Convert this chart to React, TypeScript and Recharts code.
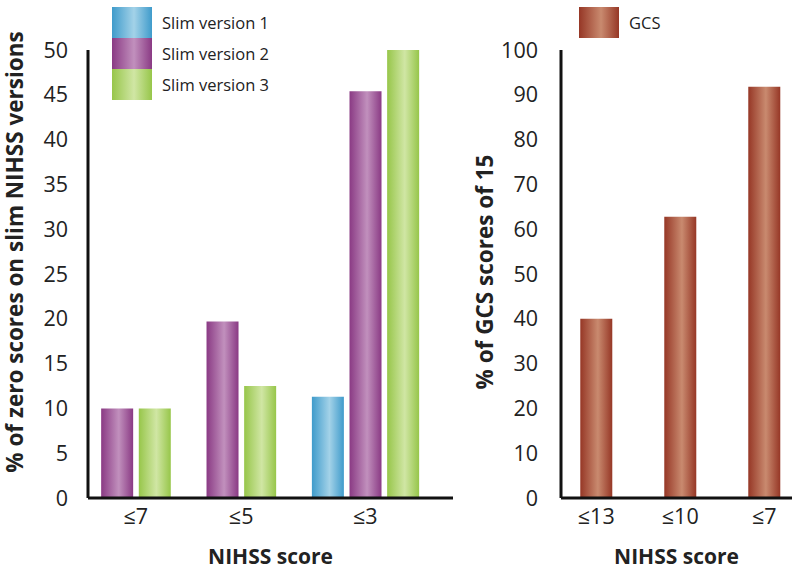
import { BarChart, Bar, XAxis, YAxis, Cell, Legend } from 'recharts';

// left panel: % of zero scores on slim NIHSS versions
const leftCategories = ['≤7', '≤5', '≤3'];
const slimV1: (number | null)[] = [null, null, 11.3];
const slimV2: (number | null)[] = [10, 19.7, 45.4];
const slimV3: (number | null)[] = [10, 12.5, 50];
const leftTicks = [0, 5, 10, 15, 20, 25, 30, 35, 40, 45, 50];

// right panel: % of GCS scores of 15
const rightCategories = ['≤13', '≤10', '≤7'];
const gcs = [40, 62.8, 91.8];
const rightTicks = [0, 10, 20, 30, 40, 50, 60, 70, 80, 90, 100];

const FONT = '"Open Sans", "Noto Sans", sans-serif';

const series = [
  { key: 'v1', name: 'Slim version 1', values: slimV1, edge: '#3f9bcb', light: '#a3d2e8' },
  { key: 'v2', name: 'Slim version 2', values: slimV2, edge: '#8a3a84', light: '#c190bd' },
  { key: 'v3', name: 'Slim version 3', values: slimV3, edge: '#97c64a', light: '#d0e6a4' },
];
const gcsStyle = { key: 'gcs', name: 'GCS', edge: '#963726', light: '#c98a6f' };

// lay bars out side by side per category, skipping missing values,
// with a wider gap between the groups
const GROUP_GAP = 0.8;
const leftRows: { pos: number; value: number; key: string }[] = [];
const leftTickPos: number[] = [];
let cursor = 0;
leftCategories.forEach((_, i) => {
  const start = cursor;
  series.forEach((s) => {
    const v = s.values[i];
    if (v != null) {
      leftRows.push({ pos: cursor, value: v, key: s.key });
      cursor += 1;
    }
  });
  leftTickPos.push((start + cursor - 1) / 2);
  cursor += GROUP_GAP;
});

const rightRows = gcs.map((v, i) => ({ pos: i, value: v, key: 'gcs' }));
const rightTickPos = rightCategories.map((_, i) => i);

const gradientDefs = (
  <defs>
    {[...series, gcsStyle].map((s) => (
      <linearGradient key={s.key} id={`grad-${s.key}`} x1="0" y1="0" x2="1" y2="0">
        <stop offset="0%" stopColor={s.edge} />
        <stop offset="55%" stopColor={s.light} />
        <stop offset="100%" stopColor={s.edge} />
      </linearGradient>
    ))}
  </defs>
);

const cssGradient = (s: { edge: string; light: string }) =>
  `linear-gradient(to right, ${s.edge} 0%, ${s.light} 55%, ${s.edge} 100%)`;

const SwatchLegend = ({ items }: { items: { key: string; name: string; edge: string; light: string }[] }) => (
  <div style={{ fontFamily: FONT, fontSize: 16.5, color: '#222' }}>
    {items.map((s) => (
      <div key={s.key} style={{ display: 'flex', alignItems: 'center', height: 31 }}>
        <div style={{ width: 40, height: 31, background: cssGradient(s) }} />
        <span style={{ marginLeft: 10 }}>{s.name}</span>
      </div>
    ))}
  </div>
);

const rotatedTitle = (text: string, x: number, y: number) => () => (
  <text
    transform={`translate(${x},${y}) rotate(-90)`}
    textAnchor="middle"
    dominantBaseline="central"
    fontFamily={FONT}
    fontSize={22.5}
    fontWeight="bold"
    fill="#222"
  >
    {text}
  </text>
);

const axisLine = { stroke: '#111', strokeWidth: 3 };
const tickStyle = { fontSize: 21.5, fill: '#222', fontFamily: FONT };
const titleStyle = { fontSize: 21, fontWeight: 'bold', fill: '#222', fontFamily: FONT };

export default function App() {
  return (
    <div style={{ position: 'absolute', left: 0, top: 0, width: 800, height: 572, background: '#fff' }}>
      <div style={{ position: 'absolute', left: 0, top: 0 }}>
        <BarChart width={460} height={572} data={leftRows} margin={{ top: 50, right: 7, bottom: 0, left: 0 }}>
          {gradientDefs}
          <XAxis
            type="number"
            dataKey="pos"
            domain={[-0.77, 8.93]}
            ticks={leftTickPos}
            tickFormatter={(v) => leftCategories[leftTickPos.indexOf(v)] ?? ''}
            interval={0}
            height={74}
            axisLine={axisLine}
            tickLine={false}
            tickSize={0}
            tickMargin={11}
            tick={tickStyle}
            label={{ value: 'NIHSS score', position: 'insideBottom', offset: 8, style: titleStyle }}
          />
          <YAxis
            domain={[0, 50]}
            ticks={leftTicks}
            interval={0}
            width={88}
            axisLine={axisLine}
            tickLine={false}
            tickSize={0}
            tickMargin={20}
            tick={tickStyle}
            label={{ content: rotatedTitle('% of zero scores on slim NIHSS versions', 14, 252) }}
          />
          <Legend
            layout="vertical"
            align="center"
            verticalAlign="middle"
            wrapperStyle={{ position: 'absolute', left: 112, top: 7, width: 'auto' }}
            content={() => <SwatchLegend items={series} />}
          />
          <Bar dataKey="value" barSize={32} isAnimationActive={false}>
            {leftRows.map((r, i) => (
              <Cell key={i} fill={`url(#grad-${r.key})`} />
            ))}
          </Bar>
        </BarChart>
      </div>
      <div style={{ position: 'absolute', left: 400, top: 0 }}>
        <BarChart width={400} height={572} data={rightRows} margin={{ top: 50, right: 8, bottom: 0, left: 0 }}>
          {gradientDefs}
          <XAxis
            type="number"
            dataKey="pos"
            domain={[-0.42, 2.33]}
            ticks={rightTickPos}
            tickFormatter={(v) => rightCategories[v] ?? ''}
            interval={0}
            height={74}
            axisLine={axisLine}
            tickLine={false}
            tickSize={0}
            tickMargin={11}
            tick={tickStyle}
            label={{ value: 'NIHSS score', position: 'insideBottom', offset: 8, style: titleStyle }}
          />
          <YAxis
            domain={[0, 100]}
            ticks={rightTicks}
            interval={0}
            width={161}
            axisLine={axisLine}
            tickLine={false}
            tickSize={0}
            tickMargin={23}
            tick={tickStyle}
            label={{ content: rotatedTitle('% of GCS scores of 15', 84, 272) }}
          />
          <Legend
            layout="vertical"
            align="center"
            verticalAlign="middle"
            wrapperStyle={{ position: 'absolute', left: 179, top: 7, width: 'auto' }}
            content={() => <SwatchLegend items={[gcsStyle]} />}
          />
          <Bar dataKey="value" barSize={32} isAnimationActive={false}>
            {rightRows.map((r, i) => (
              <Cell key={i} fill={`url(#grad-${r.key})`} />
            ))}
          </Bar>
        </BarChart>
      </div>
    </div>
  );
}
